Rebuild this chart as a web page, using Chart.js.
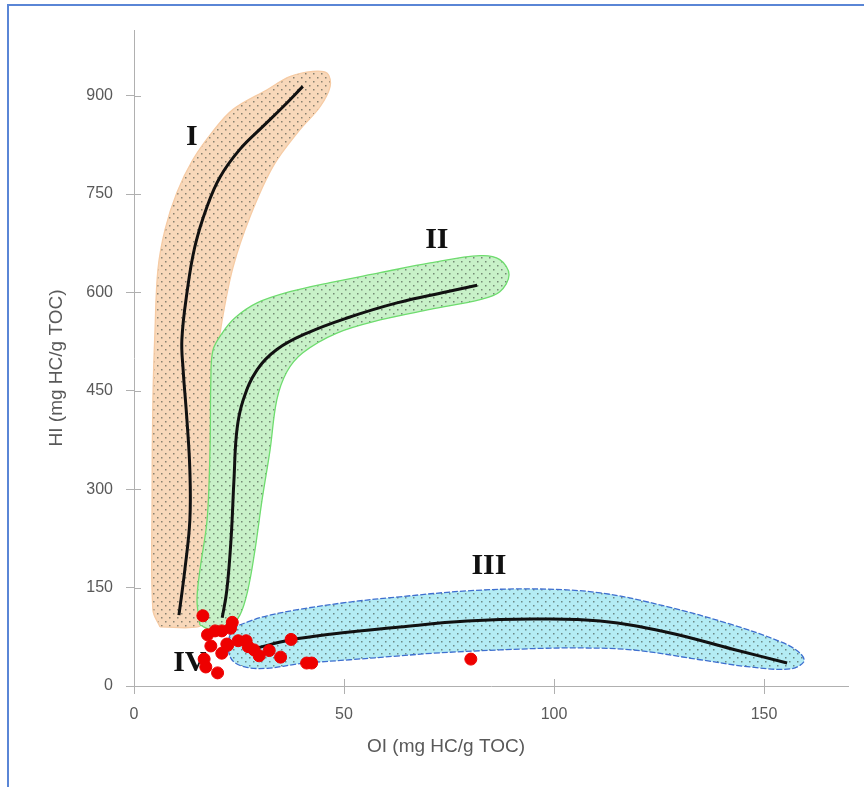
<!DOCTYPE html>
<html>
<head>
<meta charset="utf-8">
<script src="https://cdn.jsdelivr.net/npm/chart.js@4.4.1/dist/chart.umd.min.js"></script>
<style>
  html, body { margin: 0; padding: 0; background: #fff; }
  #wrap { position: relative; width: 864px; height: 787px; }
  #frame { position: absolute; left: 7px; top: 4px; right: -4px; bottom: -4px;
           border-top: 2px solid #5a86d6; border-left: 2px solid #5a86d6; pointer-events: none; }
  canvas { position: absolute; left: 0; top: 0; }
</style>
</head>
<body>
<div id="wrap">
  <canvas id="c" width="864" height="787"></canvas>
  <div id="frame"></div>
</div>
<script>
// ---- Data (OI = x, HI = y) ----
const xTickValues = [0, 50, 100, 150];
const yTickValues = [0, 150, 300, 450, 600, 750, 900];
const xTitle = 'OI (mg HC/g TOC)';
const yTitle = 'HI (mg HC/g TOC)';

// Sample points (red)
const sampleOI = [16.4, 17.5, 18.3, 20.9, 23.4, 23.0, 22.3, 20.9, 24.8, 26.7, 27.2, 28.6, 29.8, 32.2, 34.9, 37.4, 16.7, 17.1, 19.9, 41.1, 42.3, 80.2, 22.1, 19.3];
const sampleHI = [107, 78, 61, 84, 97, 88, 62, 50, 69, 69, 60, 55, 46, 54, 44, 71, 41, 29, 20, 35, 35, 41, 64, 84];

// Kerogen type I envelope outline
const envIOI = [6.2, 4.5, 4.3, 4.5, 5.0, 5.7, 7.4, 10.2, 14.0, 18.6, 23.6, 31.7, 37.1, 42.6, 46.0, 46.7, 44.3, 39.5, 33.1, 27.6, 23.6, 21.0, 19.0, 18.1, 17.6, 17.1, 16.7, 15.2, 6.2];
const envIHI = [90, 116, 284, 436, 543, 635, 696, 752, 802, 844, 879, 909, 929, 937, 934, 914, 883, 848, 792, 715, 639, 558, 467, 360, 253, 146, 101, 90, 90];
// Type I evolution path
const pathIOI = [10.7, 12.1, 13.3, 13.3, 12.6, 11.7, 11.4, 12.6, 14.5, 17.4, 20.5, 25.2, 30.7, 35.5, 40.2];
const pathIHI = [108, 177, 253, 329, 406, 482, 528, 599, 670, 731, 776, 818, 853, 883, 914];

// Type II envelope outline
const envIIOI = [15.7, 15.0, 15.7, 17.4, 18.1, 18.3, 18.8, 21.0, 24.0, 29.3, 37.1, 46.7, 58.6, 70.5, 82.4, 87.1, 89.3, 87.1, 82.4, 70.5, 58.6, 48.3, 40.2, 36.4, 34.0, 32.4, 30.5, 28.8, 27.1, 25.2, 22.4, 18.6, 15.7];
const envIIHI = [93, 131, 177, 253, 360, 467, 512, 538, 561, 584, 601, 615, 630, 645, 656, 650, 627, 601, 589, 574, 558, 538, 508, 479, 436, 360, 284, 207, 146, 108, 88, 85, 93];
// Type II evolution path
const pathIIOI = [21.0, 22.1, 23.1, 23.8, 24.5, 26.0, 29.3, 34.0, 41.2, 50.7, 62.6, 74.5, 81.7];
const pathIIHI = [104, 146, 223, 314, 390, 436, 482, 513, 538, 561, 584, 601, 611];

// Type III envelope outline
const envIIIOI = [23.3, 27.6, 31.7, 39.5, 51.4, 63.3, 79.3, 95.0, 111.0, 126.9, 142.6, 154.5, 158.6, 159.5, 156.2, 146.7, 134.8, 118.8, 103.1, 87.1, 71.2, 63.3, 51.4, 39.5, 31.7, 26.4, 23.3, 22.4, 23.3];
const envIIIHI = [88, 99, 107, 117, 128, 136, 145, 148, 142, 121, 93, 66, 50, 37, 26, 29, 40, 55, 58, 55, 50, 46, 40, 34, 27, 29, 40, 63, 88];
// Type III evolution path
const pathIIIOI = [29.3, 37.1, 46.7, 63.3, 79.3, 95.0, 111.0, 126.9, 142.6, 155.5];
const pathIIIHI = [58, 70, 79, 90, 99, 102, 99, 82, 56, 35];

// Kerogen type labels
const typeLabels = ['I', 'II', 'III', 'IV'];
const typeLabelOI = [13.8, 72.1, 84.5, 13.3];
const typeLabelHI = [836, 680, 182, 35];

// ---- helpers ----
const pts = (xs, ys) => xs.map((x, i) => ({ x: x, y: ys[i] }));
function dotPattern(fill, dot) {
  const c = document.createElement('canvas');
  c.width = 8; c.height = 8;
  const g = c.getContext('2d');
  g.fillStyle = fill; g.fillRect(0, 0, 8, 8);
  g.fillStyle = dot;
  g.fillRect(1, 1, 1.5, 1.5);
  g.fillRect(5, 5, 1.5, 1.5);
  return g.createPattern(c, 'repeat');
}
const ctx = document.getElementById('c').getContext('2d');

function envelope(xs, ys, fill, border, order, dash) {
  return {
    type: 'scatter', data: pts(xs, ys), showLine: true, fill: 'shape',
    backgroundColor: dotPattern(fill, 'rgba(60,70,60,0.6)'),
    borderColor: border, borderWidth: 1.3, borderDash: dash || [],
    tension: 0.35, pointRadius: 0, pointHoverRadius: 0, order: order
  };
}
function path(xs, ys) {
  return {
    type: 'scatter', data: pts(xs, ys), showLine: true, fill: false,
    borderColor: '#111', borderWidth: 3, tension: 0.4,
    pointRadius: 0, pointHoverRadius: 0, order: 1
  };
}

const labelPlugin = {
  id: 'labels',
  beforeDatasetsDraw(chart) {
    const c = chart.ctx, xs = chart.scales.x, ys = chart.scales.y;
    c.save();
    c.fillStyle = '#111';
    c.font = 'bold 30px "Liberation Serif", "DejaVu Serif", serif';
    c.textAlign = 'center'; c.textBaseline = 'middle';
    typeLabels.forEach((t, i) => c.fillText(t, xs.getPixelForValue(typeLabelOI[i]), ys.getPixelForValue(typeLabelHI[i])));
    c.restore();
  },
  afterDraw(chart) {
    const c = chart.ctx, xs = chart.scales.x, ys = chart.scales.y, a = chart.chartArea;
    c.save();
    // inward half of the crossing tick marks
    c.strokeStyle = '#b0b0b0'; c.lineWidth = 1;
    xs.ticks.forEach(t => { const p = Math.round(xs.getPixelForValue(t.value)) + 0.5; c.beginPath(); c.moveTo(p, a.bottom); c.lineTo(p, a.bottom - 7); c.stroke(); });
    ys.ticks.forEach(t => { const p = Math.round(ys.getPixelForValue(t.value)) + 0.5; c.beginPath(); c.moveTo(a.left, p); c.lineTo(a.left + 7, p); c.stroke(); });
    // axis titles
    c.fillStyle = '#595959';
    c.font = '19px "Liberation Sans", Arial, sans-serif';
    c.textAlign = 'center'; c.textBaseline = 'middle';
    c.fillText(xTitle, 446, 747);
    c.translate(57, 368); c.rotate(-Math.PI / 2);
    c.fillText(yTitle, 0, 0);
    c.restore();
  }
};

new Chart(ctx, {
  type: 'scatter',
  data: {
    datasets: [
      { type: 'scatter', label: 'Samples', data: pts(sampleOI, sampleHI), backgroundColor: '#ee0000', borderColor: '#ee0000', pointRadius: 6, pointHoverRadius: 6, order: 0 },
      path(pathIOI, pathIHI),
      path(pathIIOI, pathIIHI),
      path(pathIIIOI, pathIIIHI),
      envelope(envIIIOI, envIIIHI, '#b4ecf4', '#3f6fcf', 2, [6, 2]),
      envelope(envIIOI, envIIHI, '#c8f1c8', '#6fdc6f', 3),
      envelope(envIOI, envIHI, '#f8d8ba', '#f6cba4', 4)
    ]
  },
  options: {
    responsive: false, animation: false, devicePixelRatio: 1,
    layout: { padding: { top: 30, right: 16, left: 0, bottom: 0 } },
    plugins: { legend: { display: false }, tooltip: { enabled: false } },
    scales: {
      x: {
        type: 'linear', min: 0, max: 170,
        afterFit: s => { s.height = 101; },
        afterBuildTicks: s => { s.ticks = xTickValues.map(v => ({ value: v })); },
        grid: { drawOnChartArea: false, drawTicks: true, tickLength: 8, color: '#b0b0b0' },
        border: { display: true, color: '#b0b0b0', width: 1 },
        ticks: { padding: 11, color: '#595959', font: { family: '"Liberation Sans", Arial, sans-serif', size: 16 }, maxRotation: 0 },
        title: { display: false }
      },
      y: {
        type: 'linear', min: 0, max: 1000,
        afterFit: s => { s.width = 134; },
        afterBuildTicks: s => { s.ticks = yTickValues.map(v => ({ value: v })); },
        grid: { drawOnChartArea: false, drawTicks: true, tickLength: 8, color: '#b0b0b0' },
        border: { display: true, color: '#b0b0b0', width: 1 },
        ticks: { padding: 13, color: '#595959', font: { family: '"Liberation Sans", Arial, sans-serif', size: 16 } },
        title: { display: false }
      }
    }
  },
  plugins: [labelPlugin]
});
</script>
</body>
</html>
